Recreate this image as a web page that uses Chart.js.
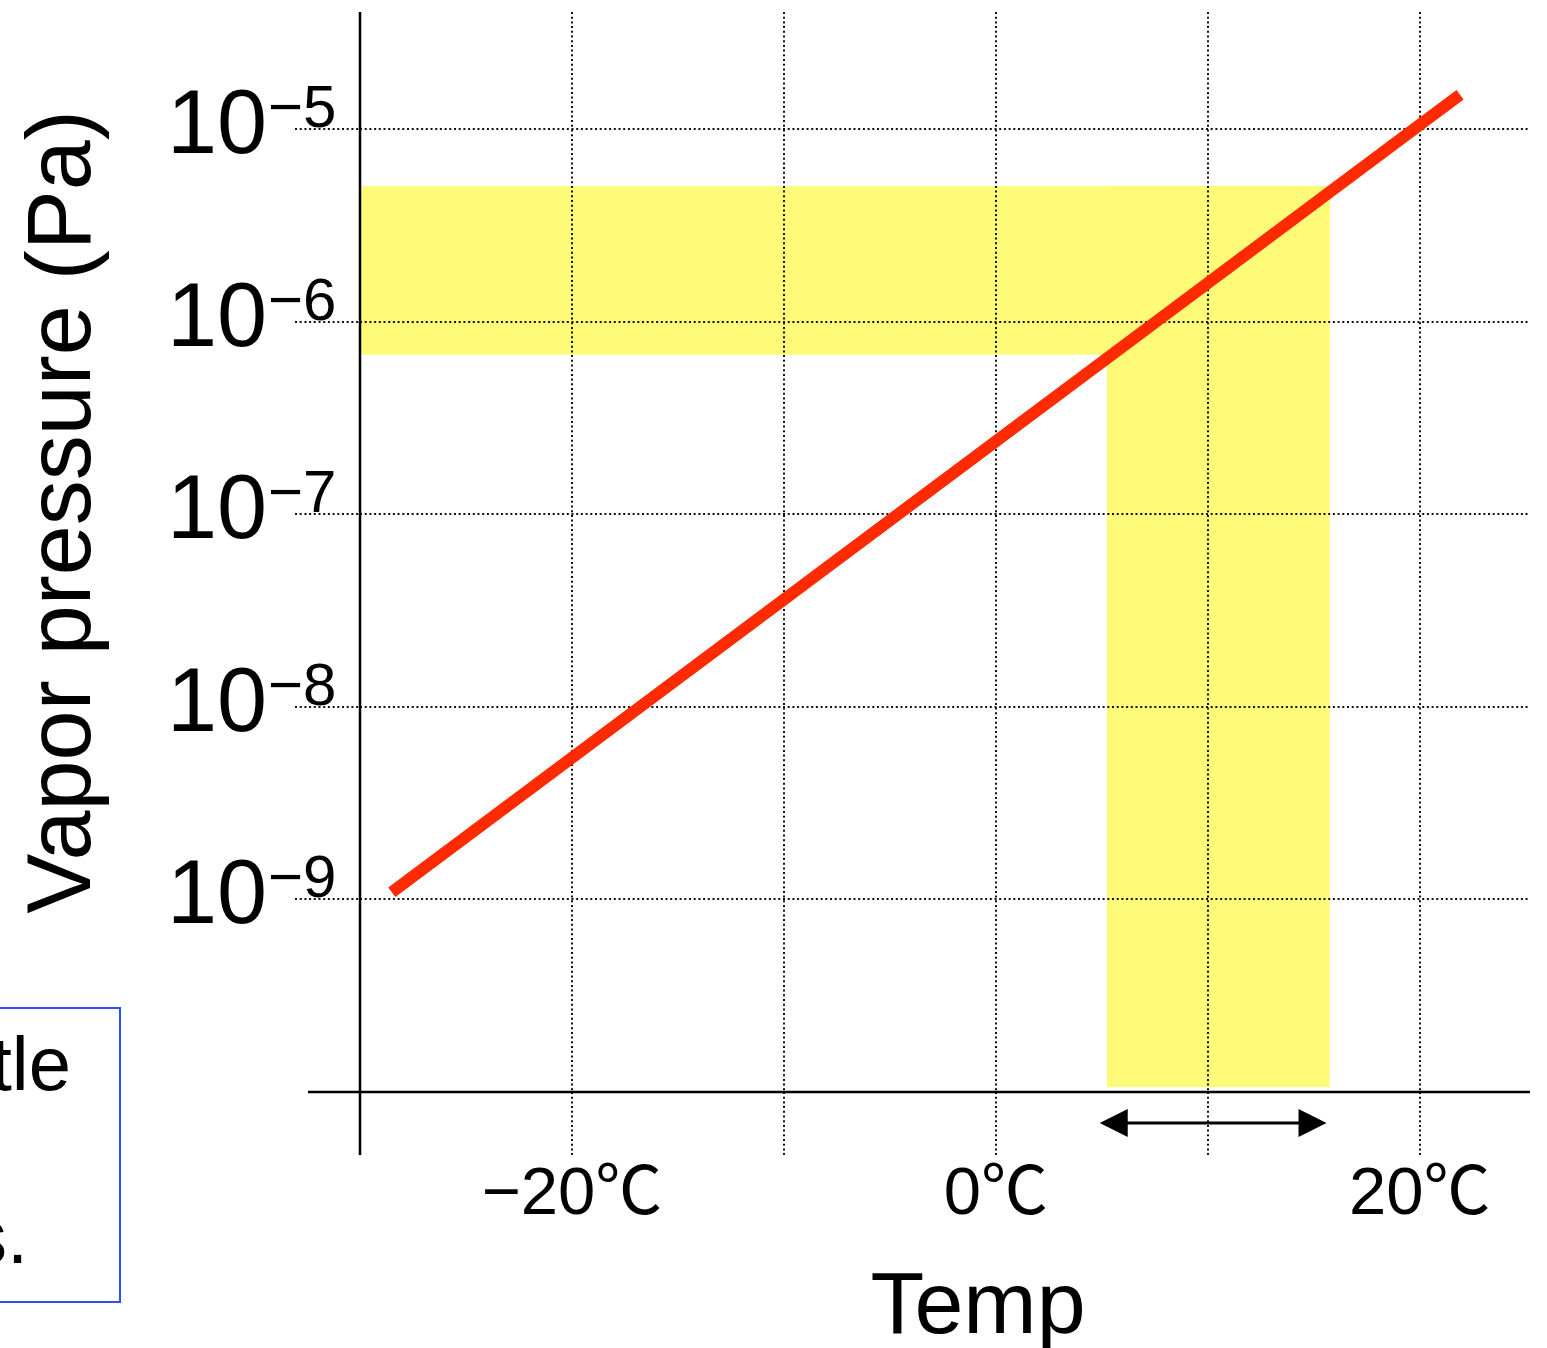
<!DOCTYPE html>
<html>
<head>
<meta charset="utf-8">
<style>
  html, body { margin: 0; padding: 0; background: #ffffff; overflow: hidden; }
  #wrap { position: relative; width: 1547px; height: 1348px; }
  canvas { display: block; }
</style>
<script src="https://cdn.jsdelivr.net/npm/chart.js@4.4.1/dist/chart.umd.min.js"></script>
</head>
<body>
<div id="wrap"><canvas id="chart" width="1547" height="1348"></canvas></div>
<script>
// Axis ranges
const tempRange = [-30, 25.2];            // °C
const pressureRange = [1e-10, 4.06e-5];   // Pa

// Temperature grid and labels
const tempTicks = [-20, -10, 0, 10, 20];
const tempLabels = ['−20℃', '', '0℃', '', '20℃'];

// Pressure decades
const pressureTicks = [1e-9, 1e-8, 1e-7, 1e-6, 1e-5];
const pressureExponents = [-9, -8, -7, -6, -5];

// Vapor pressure curve (straight on the log axis)
const curveTemps = [-28.5, 21.9];
const curvePressures = [1.09e-9, 1.51e-5];

// Highlighted pressure window and the matching temperature window
const pressureBand = [6.74e-7, 5.06e-6];
const tempBand = [5.24, 15.75];
const bandFloor = 1.06e-10;

// Double arrow under the temperature window
const arrowTemps = [4.9, 15.6];

// Side note box fragments
const noteLines = ['tle', 's.'];

const FONT = '"Liberation Sans", Arial, Helvetica, sans-serif';
const TICK_FONT = '"Liberation Sans", "Noto Sans CJK JP", sans-serif';
const DOTS = [2, 2.7];

const decorations = {
  id: 'decorations',
  beforeDraw(chart) {
    const { ctx, scales: { x, y } } = chart;
    ctx.save();
    ctx.fillStyle = '#fffb78';
    const left = x.getPixelForValue(tempRange[0]);
    const xr = x.getPixelForValue(tempBand[1]);
    const xl = x.getPixelForValue(tempBand[0]);
    const yTop = y.getPixelForValue(pressureBand[1]);
    const yLow = y.getPixelForValue(pressureBand[0]);
    const yFloor = y.getPixelForValue(bandFloor);
    ctx.fillRect(left, yTop, xr - left, yLow - yTop);
    ctx.fillRect(xl, yTop, xr - xl, yFloor - yTop);
    ctx.restore();
  },
  afterDraw(chart) {
    const { ctx, chartArea: area, scales: { x, y } } = chart;
    ctx.save();

    // Solid axes, each running past the other one
    ctx.strokeStyle = '#000';
    ctx.lineWidth = 2.5;
    ctx.beginPath();
    ctx.moveTo(area.left, area.top);
    ctx.lineTo(area.left, area.bottom + 63);
    ctx.moveTo(area.left - 52, area.bottom);
    ctx.lineTo(area.right, area.bottom);
    ctx.stroke();

    // Decade labels 10^n
    ctx.fillStyle = '#000';
    ctx.textBaseline = 'alphabetic';
    pressureTicks.forEach((v, i) => {
      const py = y.getPixelForValue(v);
      ctx.font = '90px ' + FONT;
      ctx.textAlign = 'right';
      ctx.fillText('10', area.left - 93, py + 24);
      ctx.font = '60px ' + FONT;
      ctx.textAlign = 'left';
      ctx.fillText('−' + Math.abs(pressureExponents[i]), area.left - 92, py - 2);
    });

    // Axis titles
    ctx.font = '88px ' + FONT;
    ctx.textAlign = 'center';
    ctx.fillText('Temp', 978, 1333);
    ctx.save();
    ctx.translate(90, 512);
    ctx.rotate(-Math.PI / 2);
    ctx.font = '90px ' + FONT;
    ctx.fillText('Vapor pressure (Pa)', 0, 0);
    ctx.restore();

    // Double-headed arrow
    const ay = area.bottom + 31;
    const ax0 = x.getPixelForValue(arrowTemps[0]);
    const ax1 = x.getPixelForValue(arrowTemps[1]);
    const head = 28, half = 14;
    ctx.lineWidth = 3;
    ctx.beginPath();
    ctx.moveTo(ax0 + head - 2, ay);
    ctx.lineTo(ax1 - head + 2, ay);
    ctx.stroke();
    ctx.beginPath();
    ctx.moveTo(ax0, ay);
    ctx.lineTo(ax0 + head, ay - half);
    ctx.lineTo(ax0 + head, ay + half);
    ctx.closePath();
    ctx.moveTo(ax1, ay);
    ctx.lineTo(ax1 - head, ay - half);
    ctx.lineTo(ax1 - head, ay + half);
    ctx.closePath();
    ctx.fill();

    // Note box at the lower left
    ctx.strokeStyle = '#2f4dff';
    ctx.lineWidth = 2;
    ctx.strokeRect(-10, 1008, 130, 294);
    ctx.font = '76px ' + FONT;
    ctx.textAlign = 'right';
    ctx.fillText(noteLines[0], 71, 1090);
    ctx.fillText(noteLines[1], 28, 1263);

    ctx.restore();
  }
};

new Chart(document.getElementById('chart'), {
  type: 'line',
  data: {
    datasets: [{
      data: curveTemps.map((t, i) => ({ x: t, y: curvePressures[i] })),
      borderColor: '#ff2a00',
      borderWidth: 12,
      borderCapStyle: 'butt',
      pointRadius: 0,
      fill: false,
      tension: 0
    }]
  },
  options: {
    responsive: false,
    animation: false,
    devicePixelRatio: 1,
    layout: { padding: { top: 12, right: 17, left: 0, bottom: 0 } },
    plugins: { legend: { display: false }, tooltip: { enabled: false } },
    scales: {
      x: {
        type: 'linear',
        min: tempRange[0],
        max: tempRange[1],
        afterBuildTicks: s => { s.ticks = tempTicks.map(v => ({ value: v })); },
        afterFit: s => { s.height = 256; },
        grid: {
          color: '#111', lineWidth: 2,
          drawTicks: true, tickLength: 63,
          tickColor: '#111', tickWidth: 2, tickBorderDash: DOTS
        },
        border: { display: false, dash: DOTS },
        ticks: {
          autoSkip: false, maxRotation: 0, minRotation: 0,
          padding: 0,
          color: '#000',
          font: { family: TICK_FONT, size: 67 },
          callback: (v, i) => tempLabels[i]
        }
      },
      y: {
        type: 'logarithmic',
        min: pressureRange[0],
        max: pressureRange[1],
        afterBuildTicks: s => { s.ticks = pressureTicks.map(v => ({ value: v })); },
        afterFit: s => { s.width = 360; },
        grid: {
          color: '#111', lineWidth: 2,
          drawTicks: true, tickLength: 65,
          tickColor: '#111', tickWidth: 2, tickBorderDash: DOTS
        },
        border: { display: false, dash: DOTS },
        ticks: { display: false }
      }
    }
  },
  plugins: [decorations]
});
</script>
</body>
</html>
